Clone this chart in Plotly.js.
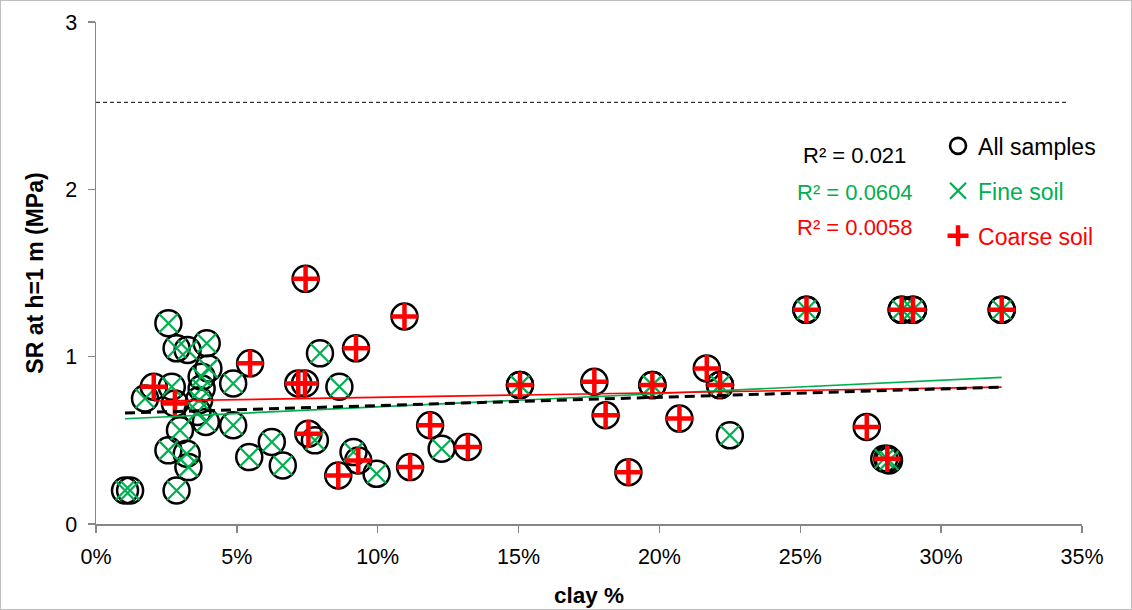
<!DOCTYPE html>
<html>
<head>
<meta charset="utf-8">
<script src="https://cdn.plot.ly/plotly-3.0.1.min.js"></script>
<style>
  html, body { margin: 0; padding: 0; background: #fff; }
  #chart { width: 1130px; height: 608px; border: 1px solid #bfbfbf; }
</style>
</head>
<body>
<div id="chart"></div>
<script>
// Fine soil samples (clay %, SR in MPa)
const fineX = [1.03, 1.21, 1.74, 2.57, 2.86, 3.25, 3.93, 3.99, 2.69, 3.75, 3.75, 3.66, 3.60, 3.90,
               4.87, 4.87, 2.98, 2.57, 3.22, 3.28, 2.86, 5.44, 6.24, 6.63, 7.77, 7.95, 8.64, 9.14,
               9.96, 12.27, 15.05, 19.75, 22.15, 22.50, 25.22, 28.60, 29.00, 32.15, 27.98, 28.15];
const fineY = [0.20, 0.20, 0.75, 1.20, 1.05, 1.04, 1.08, 0.93, 0.82, 0.88, 0.81, 0.74, 0.67, 0.61,
               0.84, 0.59, 0.56, 0.44, 0.42, 0.34, 0.20, 0.40, 0.49, 0.35, 0.50, 1.02, 0.82, 0.43,
               0.30, 0.45, 0.83, 0.83, 0.83, 0.53, 1.28, 1.28, 1.28, 1.28, 0.39, 0.38];

// Coarse soil samples
const coarseX = [2.05, 2.80, 5.47, 7.44, 7.18, 7.42, 7.54, 9.23, 10.95, 9.31, 8.60, 11.86, 11.15,
                 13.20, 15.05, 17.69, 18.09, 18.90, 19.75, 20.71, 21.68, 22.15, 25.22, 27.36,
                 28.09, 28.60, 29.00, 32.15];
const coarseY = [0.82, 0.72, 0.96, 1.465, 0.84, 0.84, 0.54, 1.05, 1.24, 0.38, 0.29, 0.59, 0.34,
                 0.46, 0.83, 0.85, 0.65, 0.31, 0.83, 0.63, 0.93, 0.83, 1.28, 0.58,
                 0.39, 1.28, 1.28, 1.28];

// Trend lines (value at the smallest and largest clay %)
const trendAllY = [0.663, 0.818];
const trendFineY = [0.629, 0.876];
const trendCoarseY = [0.735, 0.818];

// Horizontal reference level
const refLevelY = 2.52;
const refLevelX = [0, 34.5];

// R² labels
const r2Labels = ['R² = 0.021', 'R² = 0.0604', 'R² = 0.0058'];
const r2Y = [2.20, 1.98, 1.77];
const r2X = 26.94;

// Legend entries
const seriesNames = ['All samples', 'Fine soil', 'Coarse soil'];

const xTicks = [0, 5, 10, 15, 20, 25, 30, 35];
const yTicks = [0, 1, 2, 3];

const GREEN = '#00B050';
const RED = '#FF0000';
const FONT = 'Liberation Sans, Arial, sans-serif';

const allX = fineX.concat(coarseX);
const allY = fineY.concat(coarseY);
const minMax = a => [Math.min(...a), Math.max(...a)];

const traces = [
  {
    x: allX, y: allY, type: 'scatter', mode: 'markers', name: seriesNames[0], showlegend: false,
    marker: { symbol: 'circle-open', size: 26, color: '#000', line: { width: 2.5, color: '#000' } }
  },
  {
    x: fineX, y: fineY, type: 'scatter', mode: 'markers', name: seriesNames[1], showlegend: false,
    marker: { symbol: 'x-thin-open', size: 19, color: GREEN, line: { width: 2.2, color: GREEN } }
  },
  {
    x: coarseX, y: coarseY, type: 'scatter', mode: 'markers', name: seriesNames[2], showlegend: false,
    marker: { symbol: 'cross-thin-open', size: 19, color: RED, line: { width: 4.5, color: RED } }
  },
  {
    x: minMax(fineX), y: trendFineY, type: 'scatter', mode: 'lines', showlegend: false,
    line: { color: GREEN, width: 1.6 }
  },
  {
    x: minMax(coarseX), y: trendCoarseY, type: 'scatter', mode: 'lines', showlegend: false,
    line: { color: RED, width: 1.6 }
  },
  {
    x: minMax(allX), y: trendAllY, type: 'scatter', mode: 'lines', showlegend: false,
    line: { color: '#000', width: 3, dash: '10px,6px' }
  },
  {
    x: refLevelX, y: [refLevelY, refLevelY], type: 'scatter', mode: 'lines', showlegend: false,
    line: { color: '#000', width: 1, dash: '4px,3px' }
  },
  // legend-only entries (no data points)
  {
    x: [null], y: [null], type: 'scatter', mode: 'markers', name: seriesNames[0],
    legendgroup: 'a',
    marker: { symbol: 'circle-open', size: 16, color: '#000', line: { width: 2.6, color: '#000' } }
  },
  {
    x: [null], y: [null], type: 'scatter', mode: 'markers',
    name: '<span style="color:' + GREEN + '">' + seriesNames[1] + '</span>',
    legendgroup: 'b',
    marker: { symbol: 'x-thin-open', size: 16, color: GREEN, line: { width: 2.2, color: GREEN } }
  },
  {
    x: [null], y: [null], type: 'scatter', mode: 'markers',
    name: '<span style="color:' + RED + '">' + seriesNames[2] + '</span>',
    legendgroup: 'c',
    marker: { symbol: 'cross-thin-open', size: 15, color: RED, line: { width: 4.5, color: RED } }
  }
];

const annotations = r2Labels.map((t, i) => ({
  x: r2X, y: r2Y[i], xref: 'x', yref: 'y', text: t, showarrow: false,
  xanchor: 'center', yanchor: 'middle',
  font: { family: FONT, size: 22, color: ['#000', GREEN, RED][i] }
}));

const layout = {
  width: 1130, height: 608,
  margin: { l: 95, r: 49, t: 21, b: 85 },
  paper_bgcolor: '#fff', plot_bgcolor: '#fff',
  font: { family: FONT, size: 21, color: '#000' },
  showlegend: true,
  legend: {
    x: 0.854, y: 0.796, xanchor: 'left', yanchor: 'top',
    font: { family: FONT, size: 23, color: '#000' },
    tracegroupgap: 12, itemsizing: 'trace', itemwidth: 30,
    bgcolor: 'rgba(0,0,0,0)'
  },
  xaxis: {
    range: [0, 35], tickvals: xTicks, ticktext: xTicks.map(v => v + '%'),
    showgrid: false, zeroline: false, showline: true, linecolor: '#868686', linewidth: 1.5,
    ticks: 'outside', ticklen: 7, tickcolor: '#868686', tickwidth: 1.5, ticklabelstandoff: 6,
    tickfont: { family: FONT, size: 21.5, color: '#000' },
    title: { text: '<b>clay %</b>', font: { family: FONT, size: 22.5, color: '#000' }, standoff: 19 }
  },
  yaxis: {
    range: [0, 3], tickvals: yTicks,
    showgrid: false, zeroline: false, showline: true, linecolor: '#868686', linewidth: 1.5,
    ticks: 'outside', ticklen: 7, tickcolor: '#868686', tickwidth: 1.5, ticklabelstandoff: 6,
    tickfont: { family: FONT, size: 21.5, color: '#000' },
    title: { text: '<b>SR at h=1 m (MPa)</b>', font: { family: FONT, size: 23, color: '#000' }, standoff: 15 }
  },
  annotations: annotations
};

Plotly.newPlot('chart', traces, layout, { displayModeBar: false, staticPlot: true });
</script>
</body>
</html>
